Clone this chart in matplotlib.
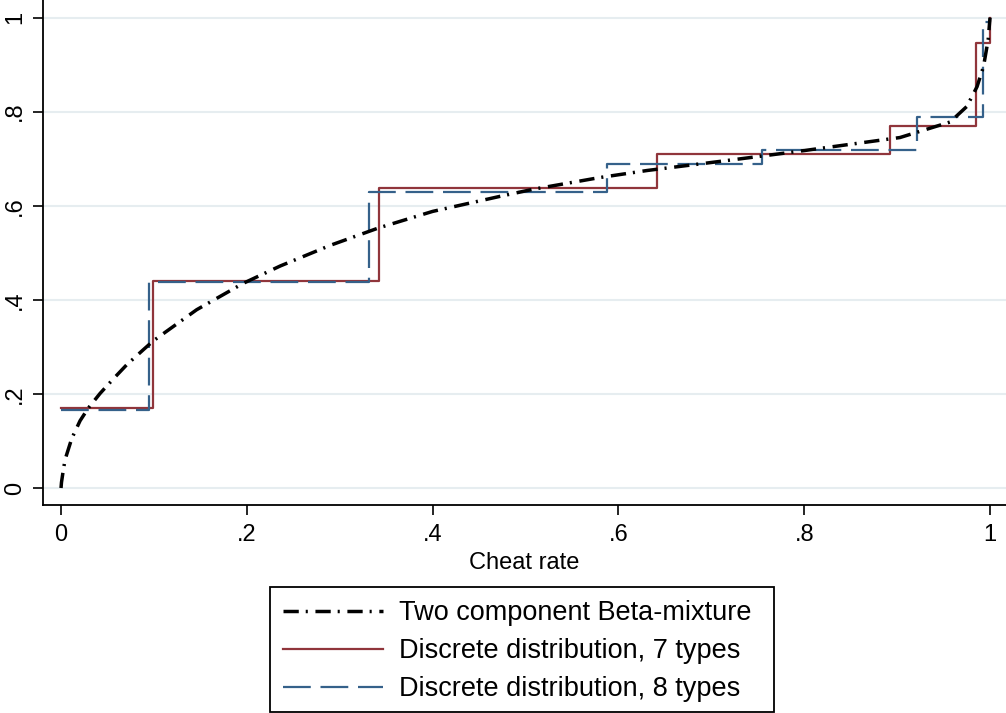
import matplotlib
matplotlib.use("Agg")
import matplotlib.pyplot as plt
from matplotlib.patches import Rectangle

plt.rcParams['font.family'] = ['Liberation Sans', 'DejaVu Sans']
plt.rcParams['lines.scale_dashes'] = False

# two component beta-mixture cdf
beta_x = [0, 0.0005, 0.002, 0.0043, 0.0115, 0.0205, 0.0294, 0.042, 0.0563, 0.0707,
          0.0886, 0.0994, 0.146, 0.196, 0.236, 0.290, 0.342, 0.40, 0.4725,
          0.508, 0.580, 0.631, 0.688, 0.74, 0.795, 0.903, 0.957, 0.975, 0.986,
          0.993, 0.998, 1.0]
beta_y = [0, 0.012, 0.032, 0.060, 0.105, 0.143, 0.170, 0.201, 0.232, 0.262,
          0.294, 0.313, 0.379, 0.435, 0.472, 0.516, 0.553, 0.588, 0.620,
          0.635, 0.660, 0.675, 0.689, 0.702, 0.716, 0.745, 0.778, 0.811, 0.853,
          0.896, 0.953, 1.0]

# discrete distribution, 7 types
d7_x = [0, 0.099, 0.342, 0.641, 0.892, 0.985, 1.0]
d7_y = [0.170, 0.441, 0.637, 0.710, 0.769, 0.946, 1.0]

# discrete distribution, 8 types
d8_x = [0, 0.095, 0.332, 0.588, 0.755, 0.921, 0.992, 1.0]
d8_y = [0.166, 0.437, 0.630, 0.688, 0.719, 0.788, 0.990, 1.0]

ticks = [0, 0.2, 0.4, 0.6, 0.8, 1]
tick_labels = ['0', '.2', '.4', '.6', '.8', '1']

fig = plt.figure(figsize=(10.06, 7.13), dpi=100)
ax = fig.add_axes([43/1006, 208/713, 963/1006, 505/713])

l1, = ax.plot(beta_x, beta_y, color='black', lw=2.5, dashes=(11, 5, 1.5, 5.5),
              zorder=5, label='Two component Beta-mixture')
l2, = ax.step(d7_x, d7_y, where='post', color='#90353b', lw=1.6, zorder=3,
              label='Discrete distribution, 7 types')
l3, = ax.step(d8_x, d8_y, where='post', color='#35618a', lw=1.6, dashes=(20, 7),
              zorder=4, label='Discrete distribution, 8 types')

ax.set_xlim(-0.0194, 1.0172)
ax.set_ylim(-0.0361, 1.0374)
ax.set_xticks(ticks)
ax.set_xticklabels(tick_labels)
ax.set_yticks(ticks)
ax.set_yticklabels(tick_labels, rotation=90, va='center')
ax.tick_params(axis='both', length=7, width=1.2, labelsize=17)
ax.tick_params(axis='x', pad=7)
ax.tick_params(axis='y', pad=5)
ax.yaxis.grid(True, color='#e6edf0', lw=1.5)
ax.set_axisbelow(True)
for s in ['top', 'right']:
    ax.spines[s].set_visible(False)
for s in ['left', 'bottom']:
    ax.spines[s].set_linewidth(1.3)
ax.set_xlabel('Cheat rate', fontsize=17, labelpad=4)

leg = fig.legend(handles=[l1, l2, l3], loc='upper left',
                 bbox_to_anchor=(283/1006, 1 - 600/713), fontsize=19.5,
                 frameon=False, handlelength=3.7, handletextpad=0.6,
                 labelspacing=0.45, borderpad=0, borderaxespad=0)
fig.patches.append(Rectangle((270/1006, 1 - 712/713), 504/1006, 125/713,
                             transform=fig.transFigure, fill=False,
                             edgecolor='black', lw=1.3))

fig.savefig('out.png', dpi=100)
